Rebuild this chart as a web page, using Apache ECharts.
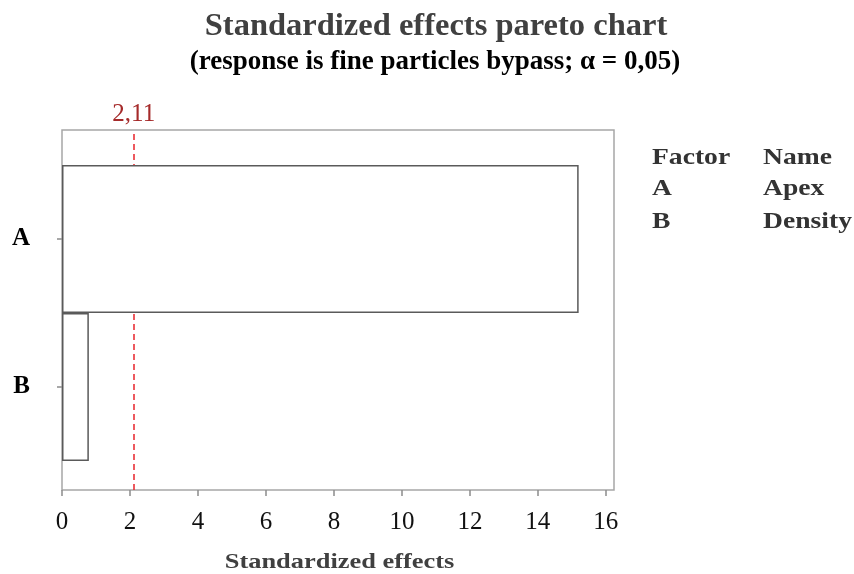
<!DOCTYPE html>
<html><head><meta charset="utf-8">
<script src="https://cdn.jsdelivr.net/npm/echarts@6/dist/echarts.min.js"></script>
<style>html,body{margin:0;padding:0;background:#fff}#c{width:854px;height:574px}</style>
</head><body><div id="c"></div>
<script>
const factors = ['A', 'B'];
const effects = [15.2, 0.79];
const critical = 2.11;
const criticalLabel = '2,11';
const xTicks = [0, 2, 4, 6, 8, 10, 12, 14, 16];
const legendRows = [['Factor', 'Name'], ['A', 'Apex'], ['B', 'Density']];
const titleText = 'Standardized effects pareto chart';
const subText = '(response is fine particles bypass; \u03b1 = 0,05)';
const xName = 'Standardized effects';

const SERIF = '"Liberation Serif", "DejaVu Serif", serif';
const XMAX = 16.24;
const chart = echarts.init(document.getElementById('c'), null, {renderer: 'canvas'});

const graphics = [
  {type: 'text', x: 436, y: 27, style: {text: titleText, font: 'bold 32.5px ' + SERIF, fill: '#404040', textAlign: 'center', textVerticalAlign: 'middle'}},
  {type: 'text', x: 435, y: 62, style: {text: subText, font: 'bold 27px ' + SERIF, fill: '#000', textAlign: 'center', textVerticalAlign: 'middle'}},
  {type: 'text', x: 339.5, y: 562, scaleX: 1.2, style: {text: xName, font: 'bold 22px ' + SERIF, fill: '#404040', textAlign: 'center', textVerticalAlign: 'middle'}}
];
const rowY = [158, 189, 222];
legendRows.forEach((r, i) => {
  graphics.push({type: 'text', x: 652, y: rowY[i], scaleX: 1.2, style: {text: r[0], font: 'bold 23px ' + SERIF, fill: '#333', textVerticalAlign: 'middle'}});
  graphics.push({type: 'text', x: 763, y: rowY[i], scaleX: 1.2, style: {text: r[1], font: 'bold 23px ' + SERIF, fill: '#333', textVerticalAlign: 'middle'}});
});

chart.setOption({
  animation: false,
  backgroundColor: '#fff',
  graphic: graphics,
  grid: [
    {left: 62, right: 240, top: 130, bottom: 84, show: true, borderColor: '#a6a6a6', borderWidth: 1.5, backgroundColor: 'transparent'},
    {left: 62, right: 240, top: 165, bottom: 113}
  ],
  xAxis: [
    {type: 'value', gridIndex: 0, min: 0, max: XMAX,
     axisLine: {show: false}, splitLine: {show: false},
     axisTick: {show: true, length: 6, customValues: xTicks, lineStyle: {color: '#8c8c8c', width: 1.5}},
     axisLabel: {customValues: xTicks, margin: 20, color: '#111', fontFamily: SERIF, fontSize: 25}},
    {type: 'value', gridIndex: 1, min: 0, max: XMAX, show: false}
  ],
  yAxis: [
    {type: 'value', gridIndex: 0, min: 0, max: 1, show: false},
    {type: 'category', gridIndex: 1, data: factors, inverse: true,
     axisLine: {show: false}, splitLine: {show: false},
     axisTick: {show: true, alignWithLabel: true, length: 5, lineStyle: {color: '#8c8c8c', width: 1.5}},
     axisLabel: {margin: 32, color: '#000', fontFamily: SERIF, fontWeight: 'bold', fontSize: 25}}
  ],
  series: [
    {type: 'scatter', xAxisIndex: 0, yAxisIndex: 0, data: [], z: 1,
     markLine: {silent: true, symbol: 'none', z: 1,
       lineStyle: {color: '#e8232a', type: [6, 4], width: 1.5},
       label: {show: true, position: 'end', formatter: criticalLabel, color: '#a52a2a', fontFamily: SERIF, fontSize: 25, distance: 3},
       data: [{xAxis: critical}]}},
    {type: 'bar', xAxisIndex: 1, yAxisIndex: 1, data: effects, z: 3,
     barCategoryGap: '0%',
     itemStyle: {color: '#fff', borderColor: '#5a5a5a', borderWidth: 1.5}}
  ]
});
</script></body></html>
